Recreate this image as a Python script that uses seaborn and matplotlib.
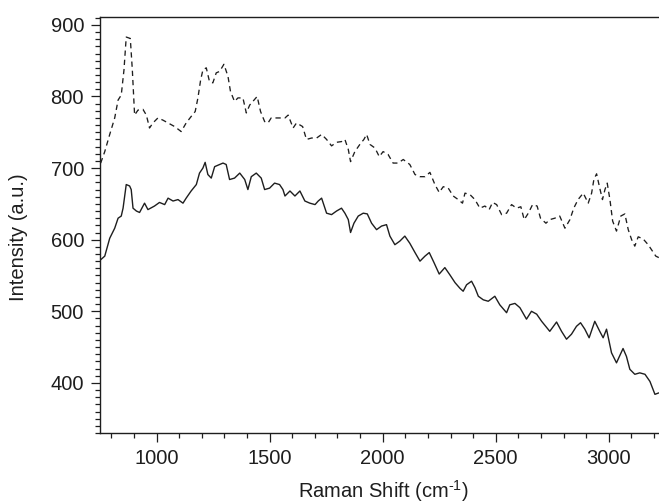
import numpy as np
import pandas as pd
import matplotlib
matplotlib.use("Agg")
import matplotlib.pyplot as plt
from matplotlib.ticker import MultipleLocator
import seaborn as sns

# Raman spectrum, lower trace (solid)
solid_shift = [753, 771, 793, 815, 830, 844, 852, 866, 881, 888, 896, 911, 925, 947,
               962, 991, 1013, 1036, 1051, 1073, 1095, 1117, 1131, 1153, 1176, 1190,
               1205, 1215, 1227, 1242, 1257, 1279, 1294, 1308, 1323, 1345, 1368, 1390,
               1404, 1419, 1441, 1463, 1478, 1500, 1522, 1544, 1559, 1568, 1590, 1612,
               1634, 1656, 1678, 1701, 1715, 1730, 1752, 1774, 1796, 1818, 1833, 1848,
               1858, 1873, 1892, 1914, 1932, 1951, 1973, 1995, 2017, 2032, 2054, 2076,
               2098, 2120, 2143, 2165, 2187, 2206, 2227, 2250, 2275, 2297, 2320, 2342,
               2356, 2371, 2393, 2408, 2423, 2445, 2467, 2496, 2518, 2548, 2562, 2585,
               2607, 2636, 2658, 2681, 2703, 2739, 2769, 2791, 2813, 2835, 2857, 2875,
               2894, 2913, 2938, 2960, 2975, 2990, 3012, 3034, 3063, 3078, 3093, 3115,
               3137, 3160, 3182, 3204, 3221]
solid_int = [572, 577, 602, 616, 630, 633, 644, 677, 675, 670, 644, 640, 638, 651,
             642, 647, 652, 649, 658, 654, 656, 651, 658, 668, 677, 693,
             700, 708, 691, 686, 702, 705, 707, 705, 684, 686, 693, 684,
             670, 688, 693, 686, 670, 672, 679, 677, 670, 661, 668, 661,
             668, 654, 651, 649, 654, 658, 637, 635, 640, 644, 637, 628,
             610, 623, 633, 637, 636, 623, 614, 619, 621, 605, 593, 598,
             605, 595, 582, 570, 577, 582, 568, 552, 561, 551, 540, 532,
             528, 537, 542, 533, 521, 516, 514, 521, 509, 498, 509, 511,
             505, 489, 500, 496, 486, 472, 485, 472, 461, 468, 479, 484,
             475, 463, 486, 472, 463, 475, 442, 428, 448, 437, 419, 412,
             414, 412, 402, 384, 386]

# Raman spectrum, upper trace (dashed)
dashed_shift = [753, 771, 793, 815, 830, 844, 856, 866, 884, 893, 903, 918, 940, 955,
                969, 984, 1006, 1028, 1051, 1080, 1109, 1131, 1153, 1171, 1183, 1195,
                1205, 1220, 1234, 1249, 1264, 1279, 1298, 1316, 1327, 1345, 1360, 1382,
                1397, 1412, 1431, 1445, 1460, 1478, 1493, 1507, 1529, 1546, 1568, 1582,
                1604, 1619, 1646, 1663, 1686, 1708, 1730, 1752, 1774, 1796, 1818, 1833,
                1848, 1858, 1877, 1899, 1917, 1929, 1944, 1966, 1985, 2002, 2024, 2046,
                2068, 2091, 2120, 2143, 2165, 2187, 2209, 2231, 2250, 2268, 2290, 2312,
                2334, 2353, 2364, 2386, 2408, 2430, 2452, 2471, 2486, 2504, 2526, 2548,
                2570, 2592, 2611, 2626, 2644, 2663, 2683, 2698, 2722, 2739, 2761, 2783,
                2806, 2828, 2845, 2864, 2887, 2909, 2924, 2934, 2946, 2960, 2972, 2983,
                2993, 3005, 3017, 3034, 3053, 3071, 3086, 3101, 3115, 3130, 3152, 3174,
                3189, 3208, 3221]
dashed_int = [707, 723, 747, 770, 795, 802, 837, 883, 881, 837, 774, 781, 782, 774,
              756, 763, 770, 767, 763, 758, 751, 763, 772, 779, 798, 823,
              837, 840, 821, 819, 833, 835, 845, 828, 807, 793, 798, 798,
              777, 788, 795, 800, 779, 765, 763, 770, 770, 770, 770, 774,
              756, 763, 758, 740, 742, 742, 747, 740, 731, 736, 737, 740,
              726, 709, 723, 733, 740, 747, 733, 728, 716, 723, 719, 707,
              707, 712, 705, 691, 688, 688, 694, 677, 666, 674, 672, 661,
              656, 651, 665, 663, 656, 644, 647, 642, 652, 649, 635, 637,
              649, 644, 646, 628, 637, 649, 647, 630, 623, 628, 630, 633,
              616, 628, 644, 656, 665, 651, 665, 684, 692, 672, 656, 670,
              679, 656, 626, 612, 633, 636, 614, 600, 591, 604, 601, 593,
              586, 577, 575]

x_ticks = [1000, 1500, 2000, 2500, 3000]
y_ticks = [400, 500, 600, 700, 800, 900]

sns.set_theme(style="ticks")
plt.rcParams["font.family"] = ["Liberation Sans", "DejaVu Sans"]
plt.rcParams["mathtext.fontset"] = "custom"
plt.rcParams["mathtext.rm"] = "Liberation Sans"
plt.rcParams["mathtext.it"] = "Liberation Sans:italic"
plt.rcParams["mathtext.bf"] = "Liberation Sans:bold"

ink = "#1e1e1e"
fig = plt.figure(figsize=(6.59, 5.04), dpi=100)
ax = fig.add_axes([100 / 659, 1 - 433 / 504, 1 - 100 / 659, (433 - 17) / 504])

solid_df = pd.DataFrame({"shift": solid_shift, "intensity": solid_int})
dashed_df = pd.DataFrame({"shift": dashed_shift, "intensity": dashed_int})

sns.lineplot(data=dashed_df, x="shift", y="intensity", ax=ax, color=ink,
             linewidth=0.95, linestyle=(0, (4, 3)), estimator=None)
sns.lineplot(data=solid_df, x="shift", y="intensity", ax=ax, color=ink,
             linewidth=1.0, estimator=None)

ax.set_xlim(750, 3222)
ax.set_ylim(330, 911)
ax.set_xticks(x_ticks)
ax.set_yticks(y_ticks)
ax.xaxis.set_minor_locator(MultipleLocator(100))
ax.yaxis.set_minor_locator(MultipleLocator(10))

ax.spines["right"].set_visible(False)
for side in ("left", "bottom", "top"):
    ax.spines[side].set_linewidth(1.0)
    ax.spines[side].set_color(ink)

ax.tick_params(axis="both", which="major", direction="out", length=6.5, width=0.9,
               color=ink, labelsize=14.5, labelcolor=ink, pad=5)
ax.tick_params(axis="both", which="minor", direction="out", length=3.3, width=0.9,
               color=ink)
ax.tick_params(axis="x", which="both", top=False)
ax.tick_params(axis="y", which="both", right=False)

ax.set_xlabel(r"Raman Shift (cm$^{\text{-1}}$)", fontsize=14.5, color=ink)
ax.set_ylabel("Intensity (a.u.)", fontsize=14.5, color=ink)
ax.xaxis.set_label_coords(0.506, -0.109)
ax.yaxis.set_label_coords(-0.129, 0.47)

fig.savefig("out.png", dpi=100)
